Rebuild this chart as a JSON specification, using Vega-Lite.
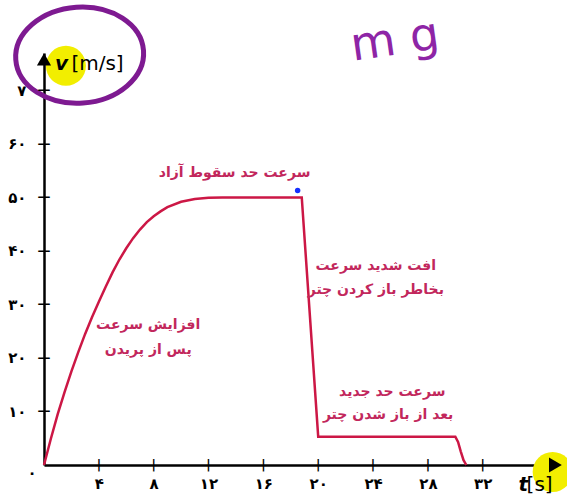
{
  "$schema": "https://vega.github.io/schema/vega-lite/v6.json",
  "width": 521,
  "height": 412,
  "autosize": {"type": "none"},
  "padding": {"left": 44, "top": 53, "right": 2, "bottom": 35},
  "background": "white",
  "config": {"view": {"stroke": null}, "font": "DejaVu Sans"},
  "datasets": {
    "curve": [
      {"t": 0, "v": 0}, {"t": 0.5, "v": 4.9}, {"t": 1, "v": 9.5}, {"t": 1.5, "v": 13.6}, {"t": 2, "v": 17.5},
      {"t": 2.5, "v": 21.1}, {"t": 3, "v": 24.5}, {"t": 3.5, "v": 27.6}, {"t": 4, "v": 30.5}, {"t": 4.5, "v": 33.3},
      {"t": 5, "v": 36}, {"t": 5.5, "v": 38.4}, {"t": 6, "v": 40.5}, {"t": 6.5, "v": 42.4}, {"t": 7, "v": 44},
      {"t": 7.5, "v": 45.4}, {"t": 8, "v": 46.5}, {"t": 8.5, "v": 47.4}, {"t": 9, "v": 48.2}, {"t": 10, "v": 49.2},
      {"t": 11, "v": 49.7}, {"t": 12, "v": 49.95}, {"t": 13, "v": 50}, {"t": 18.8, "v": 50}, {"t": 20, "v": 5.3},
      {"t": 30, "v": 5.3}, {"t": 30.2, "v": 4.3}, {"t": 30.4, "v": 2.5}, {"t": 30.6, "v": 0.9}, {"t": 30.8, "v": 0}
    ],
    "marksalongt": [
      {"t": 4, "v": 0}, {"t": 8, "v": 0}, {"t": 12, "v": 0}, {"t": 16, "v": 0},
      {"t": 20, "v": 0}, {"t": 24, "v": 0}, {"t": 28, "v": 0}, {"t": 32, "v": 0}
    ],
    "marksalongv": [
      {"t": 0, "v": 10}, {"t": 0, "v": 20}, {"t": 0, "v": 30}, {"t": 0, "v": 40},
      {"t": 0, "v": 50}, {"t": 0, "v": 60}, {"t": 0, "v": 70}
    ],
    "highlights": [{"t": 1.6, "v": 74.6}, {"t": 37.1, "v": -1.3}],
    "loop": [{"t": 2.6, "v": 76.6}],
    "arrowUp": [{"t": 0, "v": 75.8}],
    "arrowRight": [{"t": 37.3, "v": 0}],
    "dot": [{"t": 18.5, "v": 51.3}],
    "notes": [
      {"t": 13.9, "v": 54.6, "label": "سرعت حد سقوط آزاد"},
      {"t": 24.2, "v": 37.2, "label": "افت شدید سرعت"},
      {"t": 24.2, "v": 32.7, "label": "بخاطر باز کردن چتر"},
      {"t": 7.6, "v": 26.2, "label": "افزایش سرعت"},
      {"t": 7.6, "v": 21.5, "label": "پس از پریدن"},
      {"t": 25.4, "v": 13.6, "label": "سرعت حد جدید"},
      {"t": 25.1, "v": 9.3, "label": "بعد از باز شدن چتر"}
    ],
    "italicTitles": [{"t": 0.8, "v": 75, "label": "v"}, {"t": 34.6, "v": -3.7, "label": "t"}],
    "titles": [{"t": 2.0, "v": 75, "label": "[m/s]"}, {"t": 35.2, "v": -3.7, "label": "[s]"}],
    "origin": [{"t": 0, "v": 0, "label": "۰"}],
    "handwriting": [{"t": 25.6, "v": 79.3, "label": "m g"}]
  },
  "encoding": {
    "x": {
      "field": "t", "type": "quantitative",
      "scale": {"domain": [0, 38], "nice": false, "zero": false},
      "axis": {
        "title": null, "grid": false, "ticks": false, "values": [4, 8, 12, 16, 20, 24, 28, 32],
        "domainColor": "black", "domainWidth": 2.5, "labelColor": "black",
        "labelFont": "DejaVu Sans", "labelFontSize": 15, "labelFontWeight": "bold", "labelPadding": 11,
        "labelExpr": "{'4':'۴','8':'۸','12':'۱۲','16':'۱۶','20':'۲۰','24':'۲۴','28':'۲۸','32':'۳۲'}[datum.value]"
      }
    },
    "y": {
      "field": "v", "type": "quantitative",
      "scale": {"domain": [0, 77], "nice": false, "zero": false},
      "axis": {
        "title": null, "grid": false, "ticks": false, "values": [10, 20, 30, 40, 50, 60, 70],
        "domainColor": "black", "domainWidth": 2.5, "labelColor": "black",
        "labelFont": "DejaVu Sans", "labelFontSize": 15, "labelFontWeight": "bold", "labelPadding": 18,
        "labelExpr": "{'10':'۱۰','20':'۲۰','30':'۳۰','40':'۴۰','50':'۵۰','60':'۶۰','70':'۷'}[datum.value]"
      }
    }
  },
  "layer": [
    {"data": {"name": "highlights"}, "mark": {"type": "point", "shape": "circle", "filled": true, "size": 1600, "color": "#f2ee00", "opacity": 1}},
    {"data": {"name": "loop"}, "mark": {"type": "point", "shape": "M -1 0 A 1 0.75 0 1 1 1 0 A 1 0.75 0 1 1 -1 0 Z", "filled": false, "size": 16400, "stroke": "#7e1a91", "strokeWidth": 5, "angle": -4, "opacity": 1}},
    {"data": {"name": "curve"}, "mark": {"type": "line", "color": "#cc1745", "strokeWidth": 2.5, "clip": false}},
    {"data": {"name": "marksalongt"}, "mark": {"type": "text", "text": "|", "font": "DejaVu Sans", "fontSize": 12, "fontWeight": "bold", "color": "black", "align": "center", "baseline": "middle"}},
    {"data": {"name": "marksalongv"}, "mark": {"type": "text", "text": "—", "font": "DejaVu Sans", "fontSize": 13, "fontWeight": "bold", "color": "black", "align": "center", "baseline": "middle"}},
    {"data": {"name": "arrowUp"}, "mark": {"type": "point", "shape": "triangle-up", "filled": true, "size": 200, "color": "black", "opacity": 1}},
    {"data": {"name": "arrowRight"}, "mark": {"type": "point", "shape": "triangle-right", "filled": true, "size": 220, "color": "black", "opacity": 1}},
    {"data": {"name": "dot"}, "mark": {"type": "point", "shape": "circle", "filled": true, "size": 30, "color": "#1530ff", "opacity": 1}},
    {"data": {"name": "notes"}, "mark": {"type": "text", "font": "DejaVu Sans", "fontSize": 14, "fontWeight": "bold", "color": "#c2275c", "align": "center", "baseline": "middle"}, "encoding": {"text": {"field": "label"}}},
    {"data": {"name": "italicTitles"}, "mark": {"type": "text", "font": "DejaVu Sans", "fontSize": 20, "fontStyle": "italic", "fontWeight": "bold", "color": "black", "align": "left", "baseline": "middle"}, "encoding": {"text": {"field": "label"}}},
    {"data": {"name": "titles"}, "mark": {"type": "text", "font": "DejaVu Sans", "fontSize": 20, "color": "black", "align": "left", "baseline": "middle"}, "encoding": {"text": {"field": "label"}}},
    {"data": {"name": "origin"}, "mark": {"type": "text", "font": "DejaVu Sans", "fontSize": 15, "fontWeight": "bold", "color": "black", "align": "center", "baseline": "middle", "dx": -12, "dy": 8}, "encoding": {"text": {"field": "label"}}},
    {"data": {"name": "handwriting"}, "mark": {"type": "text", "font": "DejaVu Sans", "fontSize": 46, "color": "#8e25a6", "align": "center", "baseline": "middle", "angle": -8}, "encoding": {"text": {"field": "label"}}}
  ]
}
